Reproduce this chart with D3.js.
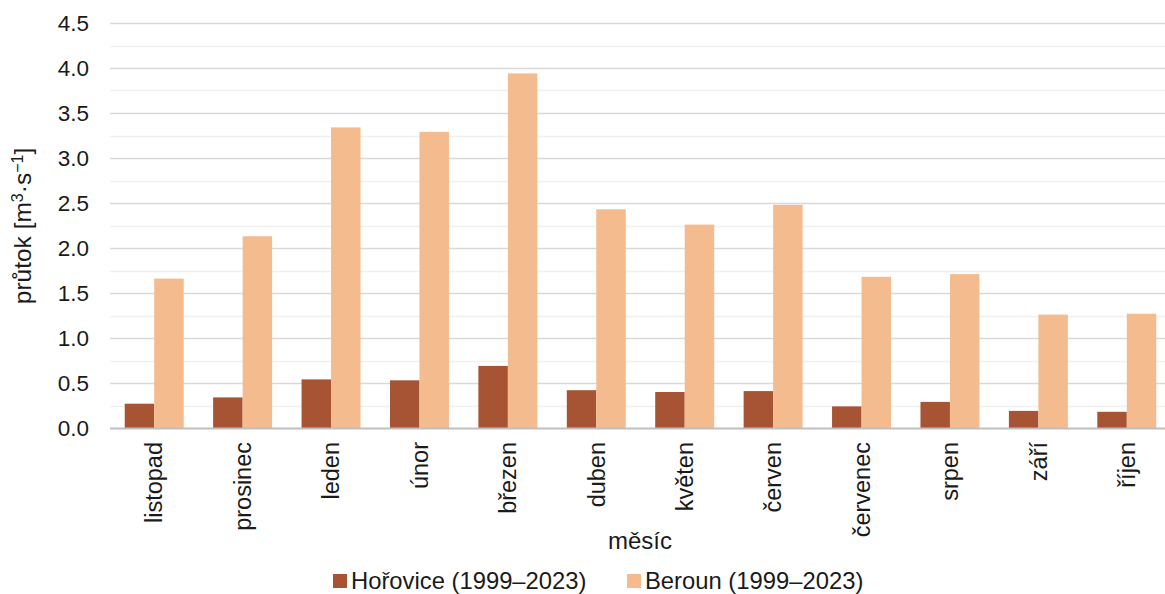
<!DOCTYPE html>
<html>
<head>
<meta charset="utf-8">
<script src="https://cdn.jsdelivr.net/npm/d3@7"></script>
<style>
  html, body { margin: 0; padding: 0; background: #fff; }
  text { font-family: "Liberation Sans", Arial, sans-serif; fill: #1a1a1a; }
</style>
</head>
<body>
<svg id="chart" width="1165" height="594"></svg>
<script>
// Monthly mean discharge, hydrological year order
const months = ["listopad", "prosinec", "leden", "únor", "březen", "duben",
                "květen", "červen", "červenec", "srpen", "září", "říjen"];
const horovice = [0.27, 0.34, 0.54, 0.53, 0.69, 0.42, 0.40, 0.41, 0.24, 0.29, 0.19, 0.18];
const beroun   = [1.66, 2.13, 3.34, 3.29, 3.94, 2.43, 2.26, 2.48, 1.68, 1.71, 1.26, 1.27];
const yTicks   = [0, 0.5, 1.0, 1.5, 2.0, 2.5, 3.0, 3.5, 4.0, 4.5];
const seriesNames = ["Hořovice (1999–2023)", "Beroun (1999–2023)"];
const seriesColors = ["#a65434", "#f4bb8f"];

const svg = d3.select("#chart");
const m = { left: 110, right: 1171, top: 23, bottom: 428 };
const gridRight = 1165;

const x = d3.scaleBand().domain(months).range([m.left, m.right]).paddingInner(0.333).paddingOuter(0.1665);
const xs = d3.scaleBand().domain([0, 1]).range([0, x.bandwidth()]);
const y = d3.scaleLinear().domain([0, 4.5]).range([m.bottom, m.top]);

// minor gridlines at every 0.25
const minor = d3.range(0.25, 4.5, 0.5);
svg.append("g").selectAll("line").data(minor).join("line")
  .attr("x1", m.left).attr("x2", gridRight)
  .attr("y1", d => Math.round(y(d)) + 0.5).attr("y2", d => Math.round(y(d)) + 0.5)
  .attr("stroke", "#f0f0f0").attr("stroke-width", 1.5);

// major gridlines
svg.append("g").selectAll("line").data(yTicks.slice(1)).join("line")
  .attr("x1", m.left).attr("x2", gridRight)
  .attr("y1", d => Math.round(y(d)) + 0.5).attr("y2", d => Math.round(y(d)) + 0.5)
  .attr("stroke", "#d9d9d9").attr("stroke-width", 1.5);

// y tick labels
svg.append("g").selectAll("text").data(yTicks).join("text")
  .attr("x", 89).attr("y", d => y(d)).attr("dy", "0.35em")
  .attr("text-anchor", "end").attr("font-size", 22.5)
  .text(d => d.toFixed(1));

// bars
const groups = svg.append("g").selectAll("g").data(months).join("g")
  .attr("transform", d => `translate(${x(d)},0)`);
[horovice, beroun].forEach((vals, s) => {
  groups.append("rect")
    .attr("x", xs(s))
    .attr("width", xs.bandwidth())
    .attr("y", (d, i) => y(vals[i]))
    .attr("height", (d, i) => y(0) - y(vals[i]))
    .attr("fill", seriesColors[s]);
});

// baseline
svg.append("line").attr("x1", m.left).attr("x2", gridRight)
  .attr("y1", y(0) + 0.5).attr("y2", y(0) + 0.5)
  .attr("stroke", "#bfbfbf").attr("stroke-width", 2);

// category labels (vertical)
svg.append("g").selectAll("text").data(months).join("text")
  .attr("transform", d => `translate(${x(d) + x.bandwidth() / 2},442) rotate(-90)`)
  .attr("text-anchor", "end").attr("dy", "0.35em").attr("font-size", 23.5)
  .text(d => d);

// axis titles
svg.append("text").attr("x", 640).attr("y", 549)
  .attr("text-anchor", "middle").attr("font-size", 24).text("měsíc");

const yt = svg.append("text")
  .attr("transform", `translate(31,226) rotate(-90)`)
  .attr("text-anchor", "middle").attr("font-size", 24.5);
yt.append("tspan").text("průtok [m");
yt.append("tspan").attr("baseline-shift", "super").attr("font-size", 16).text("3");
yt.append("tspan").text("·s");
yt.append("tspan").attr("baseline-shift", "super").attr("font-size", 16).text("−1");
yt.append("tspan").text("]");

// legend
const legendX = [333, 627];
seriesNames.forEach((name, s) => {
  svg.append("rect").attr("x", legendX[s]).attr("y", 574).attr("width", 14).attr("height", 14)
    .attr("fill", seriesColors[s]);
  svg.append("text").attr("x", legendX[s] + 18).attr("y", 581).attr("dy", "0.35em")
    .attr("font-size", 23.8).text(name);
});
</script>
</body>
</html>
